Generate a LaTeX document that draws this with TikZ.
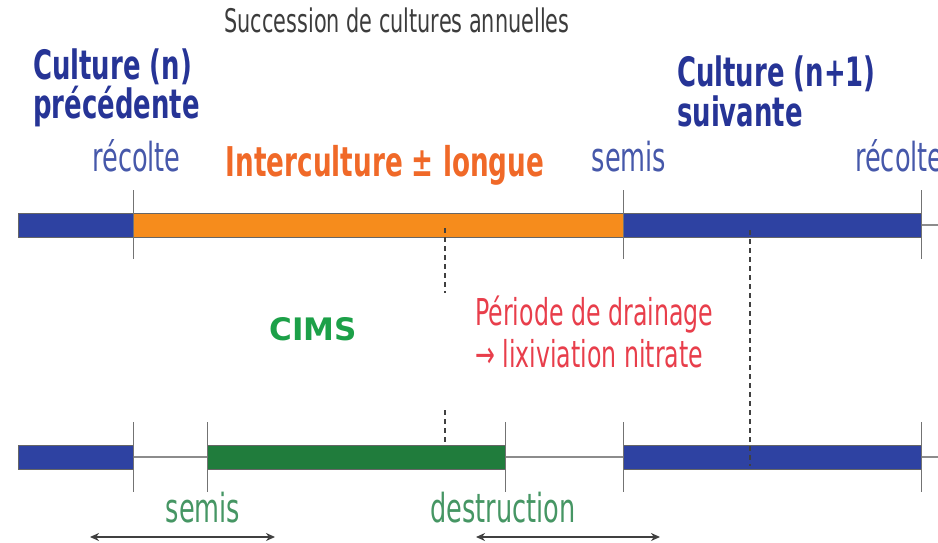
\documentclass[tikz,border=0pt]{standalone}
\usepackage{fontspec}
\setmainfont{DejaVu Sans}[FakeStretch=0.64]
\newfontfamily\widefont{DejaVu Sans}[FakeStretch=1.0]
\usetikzlibrary{arrows.meta}
\definecolor{cnavy}{RGB}{38,52,150}
\definecolor{clabel}{RGB}{70,88,170}
\definecolor{corange}{RGB}{240,105,40}
\definecolor{cgreen}{RGB}{28,160,72}
\definecolor{cgreenl}{RGB}{70,150,100}
\definecolor{cred}{RGB}{232,62,75}
\definecolor{bblue}{RGB}{46,66,162}
\definecolor{borange}{RGB}{246,140,28}
\definecolor{bgreen}{RGB}{32,124,60}
\definecolor{ctitle}{RGB}{60,60,60}
\tikzset{
  bar/.style={draw=black!60, line width=0.8pt, inner sep=0pt, outer sep=0pt, minimum height=24pt},
  axisline/.style={draw=black!45, line width=1.6pt},
  tick/.style={draw=black!55, line width=0.9pt},
  dashline/.style={draw=black!75, line width=1.2pt, dash pattern=on 5pt off 4pt},
  span/.style={draw=black!75, line width=1.5pt, {Stealth[length=9pt,width=8pt]}-{Stealth[length=9pt,width=8pt]}},
  lbl/.style={inner sep=0pt, anchor=base, font=\fontsize{40}{44}\selectfont},
  head/.style={inner sep=0pt, anchor=base west, font=\fontsize{40.5}{44}\selectfont\bfseries, text=cnavy}
}
\begin{document}
\begin{tikzpicture}[x=1pt,y=-1pt]
\useasboundingbox (0,0) rectangle (938,543);
% title
\node[inner sep=0pt, anchor=base, text=ctitle, font=\fontsize{32.5}{36}\selectfont] (title) at (397,33) {Succession de cultures annuelles};
% headings
\node[head] (prevhead1) at (33,80) {Culture (n)};
\node[head] (prevhead2) at (33,118) {précédente};
\node[head] (nexthead1) at (677,87) {Culture (n+1)};
\node[head] (nexthead2) at (677,127) {suivante};
% top labels
\node[lbl, text=clabel] (rec1) at (136.5,171) {récolte};
\node[lbl, text=clabel] (sem1) at (629,171) {semis};
\node[lbl, text=clabel, anchor=base west] (rec2) at (855,171) {récolte};
\node[inner sep=0pt, anchor=base, text=corange, font=\fontsize{41}{44}\selectfont\bfseries] (inter) at (385,176) {Interculture ± longue};
% top line
\coordinate (t0) at (18,225);
\coordinate (t1) at (938,225);
\draw[axisline] (t0) -- (t1);
\node[bar, fill=bblue, minimum width=115pt] (tprev) at (75.5,225) {};
\node[bar, fill=borange, minimum width=490pt] (tinter) at (378,225) {};
\node[bar, fill=bblue, minimum width=298pt] (tnext) at (772,225) {};
\foreach \x/\n in {133/ta,623/tb,921/tc}{
  \coordinate (\n1) at (\x,190); \coordinate (\n2) at (\x,259);
  \draw[tick] (\n1) -- (\n2);
}
% dashed lines
\coordinate (d1a) at (445,228); \coordinate (d1b) at (445,293);
\draw[dashline] (d1a) -- (d1b);
\coordinate (d2a) at (750,230); \coordinate (d2b) at (750,466);
\draw[dashline] (d2a) -- (d2b);
\coordinate (d3a) at (445,410); \coordinate (d3b) at (445,455);
\draw[dashline] (d3a) -- (d3b);
% middle texts
\node[inner sep=0pt, anchor=base, text=cgreen, font=\widefont\fontsize{31}{34}\selectfont\bfseries] (cims) at (313,340) {CIMS};
\node[inner sep=0pt, anchor=base west, text=cred, font=\fontsize{37}{40}\selectfont] (drain1) at (475,325) {Période de drainage};
\node[inner sep=0pt, anchor=base west, text=cred, font=\fontsize{37}{40}\selectfont] (drain2) at (475,367) {→ lixiviation nitrate};
% bottom line
\coordinate (b0) at (18,457);
\coordinate (b1) at (938,457);
\draw[axisline] (b0) -- (b1);
\node[bar, fill=bblue, minimum width=115pt] (bprev) at (75.5,457) {};
\node[bar, fill=bgreen, minimum width=298pt] (bcims) at (356,457) {};
\node[bar, fill=bblue, minimum width=298pt] (bnext) at (772,457) {};
\draw[dashline] (d2a) -- (d2b);
\foreach \x/\n in {133/ba,207/bb,505/bc,623/bd,921/be}{
  \coordinate (\n1) at (\x,422); \coordinate (\n2) at (\x,492);
  \draw[tick] (\n1) -- (\n2);
}
% bottom labels
\node[lbl, text=cgreenl] (sem2) at (203,522) {semis};
\node[lbl, text=cgreenl] (dest) at (503,522) {destruction};
% spans
\coordinate (s1a) at (90,537); \coordinate (s1b) at (275,537);
\draw[span] (s1a) -- (s1b);
\coordinate (s2a) at (476,537); \coordinate (s2b) at (660,537);
\draw[span] (s2a) -- (s2b);
\end{tikzpicture}
\end{document}
